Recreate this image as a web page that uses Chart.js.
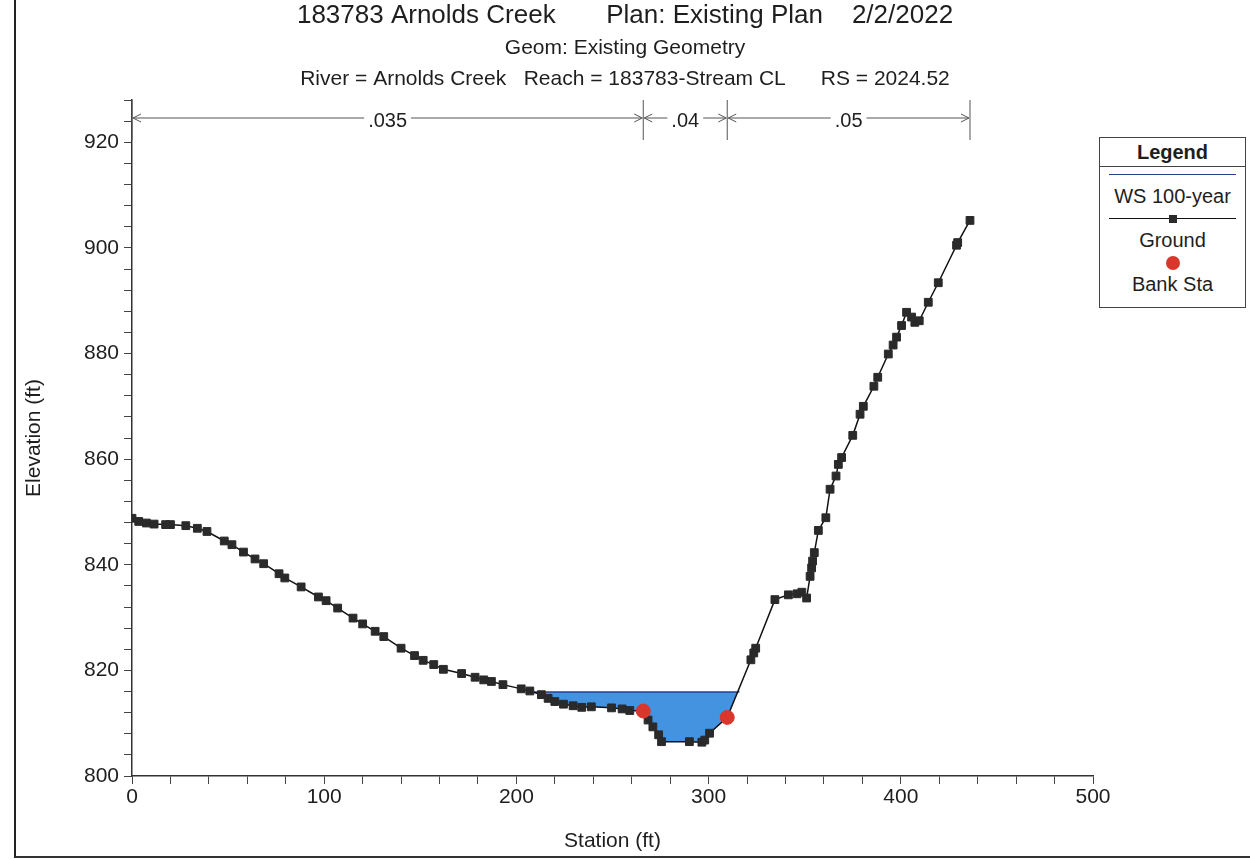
<!DOCTYPE html>
<html>
<head>
<meta charset="utf-8">
<title>183783 Arnolds Creek - RS 2024.52</title>
<script src="https://cdn.jsdelivr.net/npm/chart.js@4.4.1/dist/chart.umd.min.js"></script>
<style>
  html, body { margin: 0; padding: 0; background: #fff; }
  #wrap { position: relative; width: 1250px; height: 859px; overflow: hidden; font-family: "Liberation Sans", Arial, sans-serif; color: #1e1e1e; }
  #chart1 { position: absolute; left: 0; top: 0; }
  #frame { position: absolute; left: 14px; top: -4px; width: 1250px; height: 862px; border-left: 2px solid #222; border-bottom: 2px solid #333; box-sizing: border-box; pointer-events: none; }
  #legend { position: absolute; left: 1099px; top: 137px; width: 147px; height: 171px; border: 1px solid #444; box-sizing: border-box; background: #fff; }
  #legend .lg-title { height: 28px; line-height: 28px; text-align: center; font-weight: bold; font-size: 20px; border-bottom: 1px solid #444; }
  #legend .lg-item { height: 44px; }
  #legend .lg-sample { position: relative; height: 16px; margin: 0 9px; }
  #legend .lg-line { position: absolute; left: 0; right: 0; top: 7px; height: 0; border-top: 2px solid #000; }
  #legend .lg-box { position: absolute; left: 50%; top: 4px; width: 8px; height: 8px; margin-left: -4px; }
  #legend .lg-dot { position: absolute; left: 50%; top: 1px; width: 14px; height: 14px; margin-left: -7px; border-radius: 50%; }
  #legend .lg-text { height: 26px; line-height: 26px; text-align: center; font-size: 20px; }
</style>
</head>
<body>
<div id="wrap">
  <canvas id="chart1" width="1250" height="859"></canvas>
  <div id="frame"></div>
  <div id="legend"><div class="lg-title">Legend</div><div id="lgItems"></div></div>
</div>
<script>
// ground survey points, station (ft) / elevation (ft)
var groundSta = [0, 3.5, 7.5, 11.5, 17.5, 20, 28, 34, 39, 48, 52, 58, 64, 68.5, 76.5, 79.5, 88, 97, 101, 107,
  115, 120, 126.5, 131, 140, 147, 151.5, 157, 162, 171.5, 178.5, 183, 187, 193, 202.5, 207, 213, 216.5, 220, 224.5,
  229.5, 234, 239, 249.5, 255, 259, 266, 268.5, 271, 274, 275.5, 290, 296.5, 298, 300.5, 309.7, 322, 323.5, 324.5,
  334.5, 341.5, 346, 348.5, 351, 352.8, 353.6, 354.1, 355, 357.1, 361, 363.2, 366.3, 367.5, 369.2, 375, 378.8,
  380.5, 386, 388, 393.5, 396, 397.8, 400.4, 403, 405.6, 407.3, 409.6, 414.3, 419.5, 429, 429.6, 436];
var groundElev = [848.8, 848.2, 847.9, 847.7, 847.6, 847.6, 847.4, 846.9, 846.3, 844.5, 843.8, 842.4, 841.1, 840.2,
  838.3, 837.5, 835.8, 833.9, 833.2, 831.8, 829.9, 828.8, 827.4, 826.4, 824.2, 822.8, 821.9, 821.1, 820.2, 819.4,
  818.7, 818.2, 817.9, 817.3, 816.5, 816.1, 815.4, 814.7, 814.1, 813.6, 813.3, 813.0, 813.1, 812.9, 812.7, 812.4,
  812.3, 810.6, 809.3, 807.8, 806.5, 806.5, 806.4, 806.8, 808.1, 811.1, 822.0, 823.3, 824.2, 833.4, 834.3, 834.5,
  834.8, 833.7, 837.8, 839.4, 840.7, 842.3, 846.5, 848.9, 854.3, 856.8, 859.0, 860.3, 864.5, 868.5, 870.0, 873.8,
  875.5, 879.9, 881.6, 883.1, 885.3, 887.8, 886.9, 885.9, 886.2, 889.7, 893.4, 900.5, 901.0, 905.2];

// water surface 100-year
var wsSta = [209, 316];
var wsElev = [815.9, 815.9];

// bank stations
var bankSta = [266, 309.7];
var bankElev = [812.3, 811.1];

// manning n regions
var nBounds = [0, 266, 309.7, 436];
var nValues = ['.035', '.04', '.05'];

var fontFamily = '"Liberation Sans", Arial, sans-serif';
var textColor = '#1e1e1e';

function pairs(xs, ys) {
  return xs.map(function (x, i) { return { x: x, y: ys[i] }; });
}

var manningPlugin = {
  id: 'manning',
  afterDraw: function (chart) {
    var ctx = chart.ctx;
    var xs = chart.scales.x;
    var top = chart.chartArea.top;
    var yLine = top + 18;
    var px = nBounds.map(function (s) { return xs.getPixelForValue(s); });
    ctx.save();
    ctx.strokeStyle = '#555';
    ctx.lineWidth = 1;
    px.forEach(function (p) {
      ctx.beginPath();
      ctx.moveTo(p, top);
      ctx.lineTo(p, top + 40);
      ctx.stroke();
    });
    ctx.font = '20px ' + fontFamily;
    ctx.fillStyle = textColor;
    ctx.textAlign = 'center';
    ctx.textBaseline = 'middle';
    for (var i = 0; i < nValues.length; i++) {
      var a = px[i] + 1, b = px[i + 1] - 1;
      var mid = (px[i] + px[i + 1]) / 2;
      var half = ctx.measureText(nValues[i]).width / 2 + 4;
      ctx.beginPath();
      ctx.moveTo(a, yLine); ctx.lineTo(mid - half, yLine);
      ctx.moveTo(mid + half, yLine); ctx.lineTo(b, yLine);
      // arrow heads
      ctx.moveTo(a + 8, yLine - 4); ctx.lineTo(a, yLine); ctx.lineTo(a + 8, yLine + 4);
      ctx.moveTo(b - 8, yLine - 4); ctx.lineTo(b, yLine); ctx.lineTo(b - 8, yLine + 4);
      ctx.stroke();
      ctx.fillText(nValues[i], mid, yLine + 3);
    }
    ctx.restore();
  }
};

var xsChart = new Chart(document.getElementById('chart1'), {
  type: 'scatter',
  data: {
    datasets: [{
      label: 'WS 100-year',
      data: pairs(wsSta, wsElev),
      showLine: true,
      borderColor: '#27408f',
      borderWidth: 1.5,
      backgroundColor: '#4393e0',
      pointRadius: 0,
      fill: 1,
      order: 2
    }, {
      label: 'Ground',
      data: pairs(groundSta, groundElev),
      showLine: true,
      borderColor: '#111',
      borderWidth: 1.5,
      pointStyle: 'rect',
      pointRadius: 5.5,
      pointBackgroundColor: '#2a2a2a',
      pointBorderColor: '#2a2a2a',
      pointBorderWidth: 1,
      order: 1
    }, {
      label: 'Bank Sta',
      data: pairs(bankSta, bankElev),
      showLine: false,
      pointStyle: 'circle',
      pointRadius: 7,
      pointBackgroundColor: '#d9362c',
      pointBorderColor: '#d9362c',
      order: 0
    }]
  },
  options: {
    responsive: false,
    animation: false,
    layout: { padding: 0 },
    plugins: {
      legend: { display: false },
      tooltip: { enabled: false },
      title: {
        display: true,
        text: '183783 Arnolds Creek       Plan: Existing Plan    2/2/2022',
        color: textColor,
        font: { family: fontFamily, size: 26, weight: 'normal', lineHeight: 1.2 },
        padding: { top: 0, bottom: 1.3 }
      },
      subtitle: {
        display: true,
        text: ['Geom: Existing Geometry', 'River = Arnolds Creek   Reach = 183783-Stream CL      RS = 2024.52'],
        color: textColor,
        font: { family: fontFamily, size: 21, lineHeight: 31 / 21 },
        padding: { top: 0, bottom: 5.5 }
      }
    },
    scales: {
      x: {
        type: 'linear',
        min: 0,
        max: 500,
        afterFit: function (scale) { scale.height = 83; },
        border: { display: true, color: '#333', width: 1.5 },
        grid: { drawOnChartArea: false, drawTicks: true, tickLength: 8, tickColor: '#444' },
        ticks: {
          stepSize: 20,
          autoSkip: false,
          maxRotation: 0,
          padding: 1,
          color: textColor,
          font: { family: fontFamily, size: 21 },
          callback: function (v) { return v % 100 === 0 ? v : ''; }
        },
        title: {
          display: true,
          text: 'Station (ft)',
          color: textColor,
          font: { family: fontFamily, size: 21 },
          padding: { top: 0, bottom: 5.5 }
        }
      },
      y: {
        type: 'linear',
        min: 800,
        max: 928,
        afterFit: function (scale) { scale.width = 132; },
        border: { display: true, color: '#333', width: 1.5 },
        grid: { drawOnChartArea: false, drawTicks: true, tickLength: 8, tickColor: '#444' },
        ticks: {
          stepSize: 4,
          autoSkip: false,
          padding: 5,
          color: textColor,
          font: { family: fontFamily, size: 21 },
          callback: function (v) { return v % 20 === 0 ? v : ''; }
        },
        title: {
          display: true,
          text: 'Elevation (ft)',
          color: textColor,
          font: { family: fontFamily, size: 21 },
          padding: { top: 22, bottom: 0 }
        }
      },
      // empty right axis, only reserves the strip where the legend sits
      yRight: {
        type: 'linear',
        position: 'right',
        min: 800,
        max: 928,
        afterFit: function (scale) { scale.width = 157; },
        border: { display: false },
        grid: { display: false },
        ticks: { display: false }
      }
    }
  },
  plugins: [manningPlugin]
});

// html legend built from the datasets
var lgItems = document.getElementById('lgItems');
xsChart.data.datasets.forEach(function (ds) {
  var item = document.createElement('div');
  item.className = 'lg-item';
  var sample = document.createElement('div');
  sample.className = 'lg-sample';
  if (ds.showLine) {
    var ln = document.createElement('div');
    ln.className = 'lg-line';
    ln.style.borderTopColor = ds.borderColor;
    ln.style.borderTopWidth = ds.borderWidth + 'px';
    sample.appendChild(ln);
    if (ds.pointRadius > 0) {
      var bx = document.createElement('div');
      bx.className = 'lg-box';
      bx.style.background = ds.pointBackgroundColor;
      sample.appendChild(bx);
    }
  } else {
    var dot = document.createElement('div');
    dot.className = 'lg-dot';
    dot.style.background = ds.pointBackgroundColor;
    sample.appendChild(dot);
  }
  var txt = document.createElement('div');
  txt.className = 'lg-text';
  txt.textContent = ds.label;
  item.appendChild(sample);
  item.appendChild(txt);
  lgItems.appendChild(item);
});
</script>
</body>
</html>
